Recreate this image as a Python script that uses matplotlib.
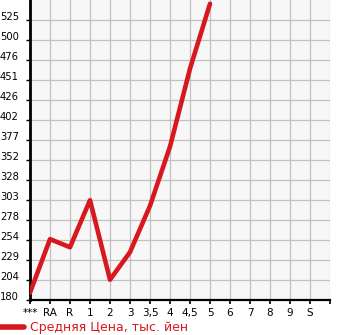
import matplotlib
matplotlib.use("Agg")
import matplotlib.pyplot as plt
import numpy as np

categories = ["***", "RA", "R", "1", "2", "3", "3,5", "4", "4,5", "5", "6", "7", "8", "9", "S"]
prices = [189, 255, 245, 303, 205, 239, 296, 369, 465, 545]
y_tick_labels = ["180", "204", "229", "254", "278", "303", "328", "352", "377",
                 "402", "426", "451", "476", "500", "525"]
legend_label = "Средняя Цена, тыс. йен"

line_color = "#d7191f"

fig = plt.figure(figsize=(3.45, 3.35), dpi=100)
ax = fig.add_axes([30 / 345, 35 / 335, 300 / 345, 300 / 335])
ax.set_facecolor("#f7f7f7")

y_min = float(y_tick_labels[0])
step = (float(y_tick_labels[-1]) - y_min) / (len(y_tick_labels) - 1)
y_ticks = [y_min + i * step for i in range(len(y_tick_labels))]

x = np.arange(len(prices))
ax.plot(x, prices, color=line_color, lw=3.3, solid_capstyle="round",
        solid_joinstyle="round", label=legend_label, zorder=3)

ax.set_xlim(0, len(categories))
ax.set_ylim(y_min, y_min + len(y_tick_labels) * step)

ax.set_xticks(list(range(len(categories) + 1)))
ax.set_xticklabels(categories + [""])
ax.set_yticks(y_ticks)
ax.set_yticklabels(y_tick_labels)

ax.grid(True, color="#c0c0c0", lw=0.9, zorder=0)
ax.set_axisbelow(True)

for s in ["top", "right"]:
    ax.spines[s].set_visible(False)
ax.spines["left"].set_linewidth(2.0)
ax.spines["bottom"].set_linewidth(1.6)

ax.tick_params(axis="y", length=3, width=1, pad=5, labelsize=7.2, colors="black")
ax.tick_params(axis="x", length=3, width=1.2, pad=3, labelsize=7.5, colors="black")
for lbl in ax.get_yticklabels():
    lbl.set_verticalalignment("baseline")

leg = ax.legend(loc="lower left", bbox_to_anchor=(-6 / 345, -4 / 335),
                bbox_transform=fig.transFigure, frameon=False,
                handlelength=2.0, handletextpad=0.5, fontsize=9,
                labelcolor=line_color, borderaxespad=0)
for h in leg.get_lines():
    h.set_linewidth(4)
    h.set_solid_capstyle("round")

fig.savefig("out.png", dpi=100)
